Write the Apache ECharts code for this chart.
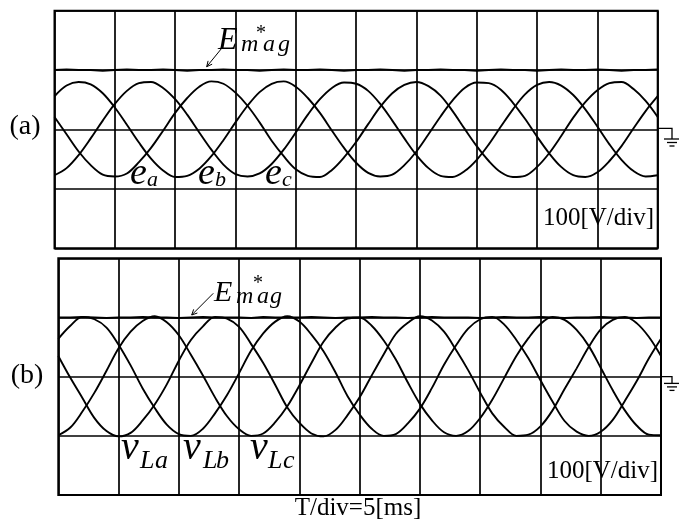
<!DOCTYPE html>
<html>
<head>
<meta charset="utf-8">
<script src="https://cdn.jsdelivr.net/npm/echarts@6/dist/echarts.min.js"></script>
<style>html,body{margin:0;background:#fff}#chart1{width:679px;height:525px}</style>
</head>
<body>
<div id="chart1"></div>
<script>
let chart1 = echarts.init(document.getElementById('chart1'));

// time in ms, 1 ms step (T/div = 5 ms, 10 div)
let time = [0,1,2,3,4,5,6,7,8,9,10,11,12,13,14,15,16,17,18,19,20,21,22,23,24,25,
    26,27,28,29,30,31,32,33,34,35,36,37,38,39,40,41,42,43,44,45,46,47,48,49,50];

// (a) source voltages e_a, e_b, e_c [V]
let ea = [21,-8,-37,-60,-76,-79,-74,-55,-31,-2,28,53,72,81,77,62,40,12,-19,-45,-67,-78,-80,-68,-47,-21,
    9,38,61,75,80,73,57,31,1,-28,-53,-72,-80,-78,-63,-40,-11,20,46,66,78,80,68,48,21];
let eb = [56,74,80,76,61,37,8,-22,-49,-69,-80,-78,-66,-45,-18,12,40,63,77,81,72,53,28,-2,-31,-56,
    -73,-79,-76,-60,-37,-8,22,49,70,79,78,67,45,18,-12,-40,-63,-77,-80,-72,-53,-28,2,31,56];
let ec = [-77,-65,-43,-15,15,43,65,78,80,70,51,25,-5,-34,-59,-75,-79,-74,-58,-34,-5,25,51,70,79,77,
    65,43,15,-15,-43,-65,-78,-80,-70,-51,-25,5,34,59,75,80,74,58,34,5,-25,-51,-70,-79,-77];
let emagA = [100,101,100,100,99,100,101,100,100,101,100,99,100,100,101,100,100,99,100,101,100,100,101,100,99,100,
    100,101,100,99,100,100,101,100,100,99,100,101,100,100,99,100,101,100,100,101,100,99,100,100,101];

// (b) load voltages v_La, v_Lb, v_Lc [V]
let vLa = [35,-2,-36,-70,-92,-101,-95,-74,-47,-13,27,62,85,101,98,84,55,23,-14,-52,-78,-96,-101,-90,-65,-35,
    2,38,72,91,102,95,76,45,11,-27,-62,-85,-100,-98,-84,-57,-21,14,50,80,96,101,90,67,35];
let vLb = [64,86,101,97,83,54,19,-20,-53,-81,-97,-100,-88,-62,-31,6,44,73,93,102,93,71,43,7,-33,-64,
    -88,-100,-97,-79,-54,-19,20,53,81,97,101,88,62,31,-6,-42,-75,-93,-100,-93,-73,-41,-7,31,64];
let vLc = [-99,-86,-59,-27,10,48,76,94,102,92,70,37,2,-35,-67,-89,-100,-96,-77,-50,-15,23,59,83,98,100,
    86,61,29,-10,-46,-74,-94,-100,-92,-70,-39,-2,35,65,89,101,96,79,52,15,-23,-57,-83,-98,-99];
let emagB = [100,100,101,100,99,100,100,101,100,100,99,100,101,100,100,100,99,101,100,100,100,101,100,99,100,100,
    101,100,100,99,100,101,100,100,100,99,100,101,100,100,101,100,99,100,100,101,100,100,99,100,100];

let serif = '"Liberation Serif", "Times New Roman", serif';

function pairs(arr) {
    return time.map((t, i) => [t, arr[i]]);
}

function axisX(idx) {
    return {
        gridIndex: idx, type: 'value', min: 0, max: 50, interval: 5,
        axisLine: {show: false}, axisTick: {show: false}, axisLabel: {show: false},
        splitLine: {show: true, lineStyle: {color: '#000', width: 1.7}}
    };
}

function axisY(idx) {
    return {
        gridIndex: idx, type: 'value', min: -200, max: 200, interval: 100,
        axisLine: {show: false}, axisTick: {show: false}, axisLabel: {show: false},
        splitLine: {show: true, lineStyle: {color: '#000', width: 1.7}}
    };
}

function trace(idx, arr, w, sm) {
    return {
        type: 'line', xAxisIndex: idx, yAxisIndex: idx,
        data: pairs(arr), showSymbol: false, smooth: sm === undefined ? 0.35 : sm,
        lineStyle: {color: '#000', width: w || 1.9},
        silent: true
    };
}

function txt(x, y, s, size, italic, align) {
    return {
        type: 'text', z: 100,
        style: {
            text: s, x: x, y: y, fill: '#000',
            font: (italic ? 'italic ' : '') + size + 'px ' + serif,
            align: align || 'left', verticalAlign: 'middle',
            textAlign: align || 'left', textVerticalAlign: 'middle'
        }
    };
}

function arrow(x1, y1, x2, y2) {
    let dx = x1 - x2, dy = y1 - y2, len = Math.sqrt(dx * dx + dy * dy);
    dx /= len; dy /= len;
    let a = 0.45, h = 6;
    let p1 = [x2 + h * (dx * Math.cos(a) - dy * Math.sin(a)), y2 + h * (dx * Math.sin(a) + dy * Math.cos(a))];
    let p2 = [x2 + h * (dx * Math.cos(a) + dy * Math.sin(a)), y2 + h * (-dx * Math.sin(a) + dy * Math.cos(a))];
    return [
        {type: 'line', z: 100, shape: {x1: x1, y1: y1, x2: x2, y2: y2}, style: {stroke: '#000', lineWidth: 1}},
        {type: 'polyline', z: 100, shape: {points: [p1, [x2, y2], p2]}, style: {stroke: '#000', lineWidth: 1, fill: null}}
    ];
}

function ground(x0, y0, cx, dy) {
    let st = {stroke: '#000', lineWidth: 1.3};
    return [
        {type: 'polyline', z: 100, shape: {points: [[x0, y0], [cx, y0], [cx, y0 + dy]]}, style: Object.assign({fill: null}, st)},
        {type: 'line', z: 100, shape: {x1: cx - 8, y1: y0 + dy, x2: cx + 8, y2: y0 + dy}, style: st},
        {type: 'line', z: 100, shape: {x1: cx - 5, y1: y0 + dy + 3.5, x2: cx + 5, y2: y0 + dy + 3.5}, style: st},
        {type: 'line', z: 100, shape: {x1: cx - 2.5, y1: y0 + dy + 7, x2: cx + 2.5, y2: y0 + dy + 7}, style: st}
    ];
}

let graphics = [
    txt(25, 127, '(a)', 28, false, 'center'),
    txt(27, 376, '(b)', 28, false, 'center'),
    // E*mag, panel a
    txt(218, 41, 'E', 32, true),
    txt(256, 34, '*', 20),
    txt(241, 45, 'm', 24, true),
    txt(263, 45, 'a', 24, true),
    txt(278, 45, 'g', 24, true),
    // E*mag, panel b
    txt(214, 293, 'E', 30, true),
    txt(253, 284, '*', 20),
    txt(236, 297, 'm', 24, true),
    txt(257, 297, 'a', 24, true),
    txt(270, 297, 'g', 24, true),
    // e_a, e_b, e_c
    txt(130, 174, 'e', 38, true), txt(147, 180, 'a', 22, true),
    txt(198, 174, 'e', 38, true), txt(215, 180, 'b', 22, true),
    txt(265, 174, 'e', 38, true), txt(282, 180, 'c', 22, true),
    // v_La, v_Lb, v_Lc
    txt(121, 448, 'v', 40, true), txt(140, 461, 'L', 26, true), txt(155, 461, 'a', 26, true),
    txt(183, 448, 'v', 40, true), txt(203, 461, 'L', 26, true), txt(216, 461, 'b', 26, true),
    txt(250, 448, 'v', 40, true), txt(268, 461, 'L', 26, true), txt(283, 461, 'c', 26, true),
    // scales
    txt(654, 218, '100[V/div]', 25, false, 'right'),
    txt(658, 471, '100[V/div]', 25, false, 'right'),
    txt(358, 508, 'T/div=5[ms]', 25, false, 'center')
].concat(
    arrow(221.7, 48.3, 206.7, 66.7),
    arrow(213.3, 293.3, 191.7, 315),
    ground(657.7, 128.3, 672, 10.7),
    ground(661, 376.7, 672, 6.7)
);

let option = {
    backgroundColor: '#fff',
    animation: false,
    grid: [
        {left: 54.5, top: 10.7, width: 603.2, height: 237.6, show: true, borderColor: '#000', borderWidth: 2, backgroundColor: '#fff'},
        {left: 58.3, top: 258.3, width: 602.7, height: 236.7, show: true, borderColor: '#000', borderWidth: 2, backgroundColor: '#fff'}
    ],
    xAxis: [axisX(0), axisX(1)],
    yAxis: [axisY(0), axisY(1)],
    series: [
        trace(0, emagA, 2, false),
        trace(0, ea), trace(0, eb), trace(0, ec),
        trace(1, emagB, 2, false),
        trace(1, vLa), trace(1, vLb), trace(1, vLc)
    ],
    graphic: graphics
};
chart1.setOption(option);
window.onresize = chart1.resize;
</script>
</body>
</html>
